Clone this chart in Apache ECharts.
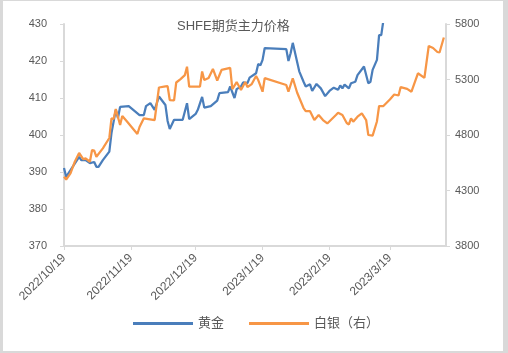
<!DOCTYPE html>
<html>
<head>
<meta charset="utf-8">
<script src="https://cdn.jsdelivr.net/npm/echarts@6/dist/echarts.min.js"></script>
<style>
  html, body { margin: 0; padding: 0; background: #fff; }
  #chart { width: 508px; height: 353px; }
  #frame {
    position: absolute; left: 0; top: 0; width: 500px; height: 350px;
    border-left: 3px solid #d9d9d9; border-top: 1px solid #d9d9d9;
    border-right: 5px solid #d9d9d9; border-bottom: 2px solid #d9d9d9;
    pointer-events: none;
  }
</style>
</head>
<body>
<div id="chart"></div>
<div id="frame"></div>
<script>
// 黄金 (left axis)
var goldDates = ['2022/10/19', '2022/10/20', '2022/10/26', '2022/10/27', '2022/10/29', '2022/10/31',
  '2022/11/2', '2022/11/3', '2022/11/4', '2022/11/6', '2022/11/9', '2022/11/10', '2022/11/12',
  '2022/11/13', '2022/11/14', '2022/11/18', '2022/11/23', '2022/11/25', '2022/11/26', '2022/11/28',
  '2022/11/30', '2022/12/2', '2022/12/5', '2022/12/6', '2022/12/7', '2022/12/9', '2022/12/13',
  '2022/12/15', '2022/12/16', '2022/12/19', '2022/12/20', '2022/12/22', '2022/12/23', '2022/12/26',
  '2022/12/29', '2022/12/30', '2023/1/3', '2023/1/4', '2023/1/6', '2023/1/7', '2023/1/9', '2023/1/10',
  '2023/1/12', '2023/1/13', '2023/1/16', '2023/1/17', '2023/1/18', '2023/1/19', '2023/1/20',
  '2023/1/30', '2023/1/31', '2023/2/1', '2023/2/2', '2023/2/4', '2023/2/5', '2023/2/7', '2023/2/8',
  '2023/2/10', '2023/2/11', '2023/2/13', '2023/2/15', '2023/2/17', '2023/2/19', '2023/2/21',
  '2023/2/23', '2023/2/24', '2023/2/25', '2023/2/26', '2023/2/28', '2023/3/1', '2023/3/3', '2023/3/4',
  '2023/3/7', '2023/3/9', '2023/3/10', '2023/3/11', '2023/3/13', '2023/3/14', '2023/3/15', '2023/3/16']
var goldValues = [391.1, 388.7, 394.1, 393.2, 393.2, 392.4,
  392.7, 391.4, 391.4, 393.2, 395.5, 400.5, 406.8,
  404.6, 407.6, 407.8, 405.4, 405.4, 407.8, 408.6,
  406.8, 410.4, 408.1, 403.8, 401.6, 404.1, 404.1,
  408.6, 404.3, 405.7, 406.8, 410.3, 407.4, 407.8,
  409.3, 411.3, 411.6, 413.1, 410.0, 412.4, 413.1, 414.2,
  414.0, 415.5, 416.7, 419.2, 418.8, 420.3, 423.5,
  423.2, 420.0, 422.1, 424.9, 419.8, 417.2, 414.4, 413.1,
  413.7, 411.9, 413.8, 412.6, 410.5, 411.9, 412.8,
  412.2, 413.4, 412.6, 413.6, 412.6, 414.0, 414.4, 416.2,
  418.5, 414.0, 414.4, 417.6, 420.3, 427.0, 427.0, 431.0]

// 白银 (right axis)
var silverDates = ['2022/10/19', '2022/10/20', '2022/10/22', '2022/10/24', '2022/10/26', '2022/10/28',
  '2022/10/29', '2022/10/31', '2022/11/1', '2022/11/2', '2022/11/3', '2022/11/6', '2022/11/9',
  '2022/11/10', '2022/11/11', '2022/11/12', '2022/11/14', '2022/11/15', '2022/11/17', '2022/11/22',
  '2022/11/23', '2022/11/25', '2022/11/30', '2022/12/2', '2022/12/5', '2022/12/6', '2022/12/7',
  '2022/12/9', '2022/12/10', '2022/12/12', '2022/12/14', '2022/12/15', '2022/12/16', '2022/12/21',
  '2022/12/22', '2022/12/23', '2022/12/25', '2022/12/27', '2022/12/29', '2022/12/31', '2023/1/4',
  '2023/1/5', '2023/1/7', '2023/1/9', '2023/1/11', '2023/1/12', '2023/1/14', '2023/1/16', '2023/1/17',
  '2023/1/19', '2023/1/20', '2023/1/30', '2023/1/31', '2023/2/2', '2023/2/4', '2023/2/7', '2023/2/8',
  '2023/2/10', '2023/2/12', '2023/2/13', '2023/2/14', '2023/2/16', '2023/2/18', '2023/2/22',
  '2023/2/23', '2023/2/25', '2023/2/27', '2023/2/28', '2023/3/1', '2023/3/2', '2023/3/4', '2023/3/6',
  '2023/3/8', '2023/3/9', '2023/3/11', '2023/3/13', '2023/3/14', '2023/3/16', '2023/3/19',
  '2023/3/21', '2023/3/23', '2023/3/24', '2023/3/27', '2023/3/29', '2023/4/1', '2023/4/4', '2023/4/6',
  '2023/4/8', '2023/4/10', '2023/4/11', '2023/4/13']
var silverValues = [4424, 4399, 4455, 4559, 4638, 4581,
  4590, 4559, 4665, 4659, 4604, 4680, 4773,
  4950, 4944, 5034, 4890, 4971, 4926, 4809,
  4872, 4950, 4935, 5228, 5239, 5241, 5115,
  5111, 5273, 5304, 5340, 5415, 5235, 5235,
  5372, 5295, 5313, 5395, 5291, 5386, 5404,
  5214, 5277, 5205, 5277, 5232, 5259, 5331, 5295,
  5190, 5313, 5250, 5190, 5311, 5183, 5043, 5014,
  5014, 4935, 4958, 4980, 4935, 4904, 4980,
  5001, 4980, 4908, 4895, 4950, 4920, 4965, 4995,
  4935, 4800, 4795, 4922, 5061, 5061, 5120,
  5165, 5156, 5232, 5216, 5190, 5356, 5315, 5602,
  5584, 5548, 5543, 5678]

var tickDates = ['2022/10/19', '2022/11/19', '2022/12/19', '2023/1/19', '2023/2/19', '2023/3/19']
var lastDate = '2023/4/14'

var startDate = goldDates[0]
function dayIndex(s) {
  var a = s.split('/'), b = startDate.split('/')
  return Math.round((Date.UTC(+a[0], a[1] - 1, +a[2]) - Date.UTC(+b[0], b[1] - 1, +b[2])) / 86400000)
}

var tickDays = tickDates.map(dayIndex)
var labelByDay = {}
tickDates.forEach(function (d, i) { labelByDay[tickDays[i]] = d })

var goldData = goldDates.map(function (d, i) { return [dayIndex(d), goldValues[i]] })
var silverData = silverDates.map(function (d, i) { return [dayIndex(d), silverValues[i]] })

var textColor = '#595959'
var axisGray = '#d9d9d9'
var font = '"Liberation Sans", "Noto Sans CJK SC", sans-serif'

var myChart = echarts.init(document.getElementById('chart'))
var option = {
  backgroundColor: '#fff',
  animation: false,
  textStyle: { fontFamily: font },
  title: {
    text: 'SHFE期货主力价格',
    left: 172,
    top: 15,
    textStyle: { color: textColor, fontSize: 13, fontWeight: 'normal', fontFamily: font }
  },
  legend: {
    top: 312,
    left: 128,
    itemWidth: 60,
    itemHeight: 3,
    itemGap: 25,
    icon: 'rect',
    textStyle: { color: textColor, fontSize: 13, fontFamily: font },
    data: ['黄金', '白银（右）']
  },
  grid: {
    left: 64,
    right: 62,
    top: 24,
    bottom: 107,
    containLabel: false,
    outerBoundsMode: 'none'
  },
  xAxis: {
    type: 'value',
    min: 0,
    max: dayIndex(lastDate),
    splitLine: { show: false },
    axisLine: { show: true, lineStyle: { color: axisGray, width: 2 } },
    axisTick: { show: true, length: 4, lineStyle: { color: axisGray }, customValues: tickDays },
    axisLabel: {
      customValues: tickDays,
      rotate: 45,
      margin: 10,
      color: textColor,
      fontSize: 12,
      formatter: function (val) { return labelByDay[val] || '' }
    }
  },
  yAxis: [
    {
      type: 'value',
      min: 370,
      max: 430,
      interval: 10,
      splitLine: { show: false },
      axisLine: { show: true, lineStyle: { color: axisGray, width: 2 } },
      axisTick: { show: true, length: 4, lineStyle: { color: axisGray } },
      axisLabel: { color: textColor, fontSize: 11, margin: 17 }
    },
    {
      type: 'value',
      min: 3800,
      max: 5800,
      interval: 500,
      position: 'right',
      splitLine: { show: false },
      axisLine: { show: true, lineStyle: { color: axisGray, width: 2 } },
      axisTick: { show: true, length: 4, lineStyle: { color: axisGray } },
      axisLabel: {
        color: textColor,
        fontSize: 11,
        margin: 9,
        formatter: function (val) { return String(val) }
      }
    }
  ],
  series: [
    {
      name: '黄金',
      type: 'line',
      yAxisIndex: 0,
      data: goldData,
      showSymbol: false,
      clip: true,
      color: '#4a7ebb',
      lineStyle: { width: 2.25, color: '#4a7ebb' }
    },
    {
      name: '白银（右）',
      type: 'line',
      yAxisIndex: 1,
      data: silverData,
      showSymbol: false,
      clip: true,
      color: '#f79646',
      lineStyle: { width: 2.25, color: '#f79646' }
    }
  ]
}
myChart.setOption(option)
</script>
</body>
</html>
